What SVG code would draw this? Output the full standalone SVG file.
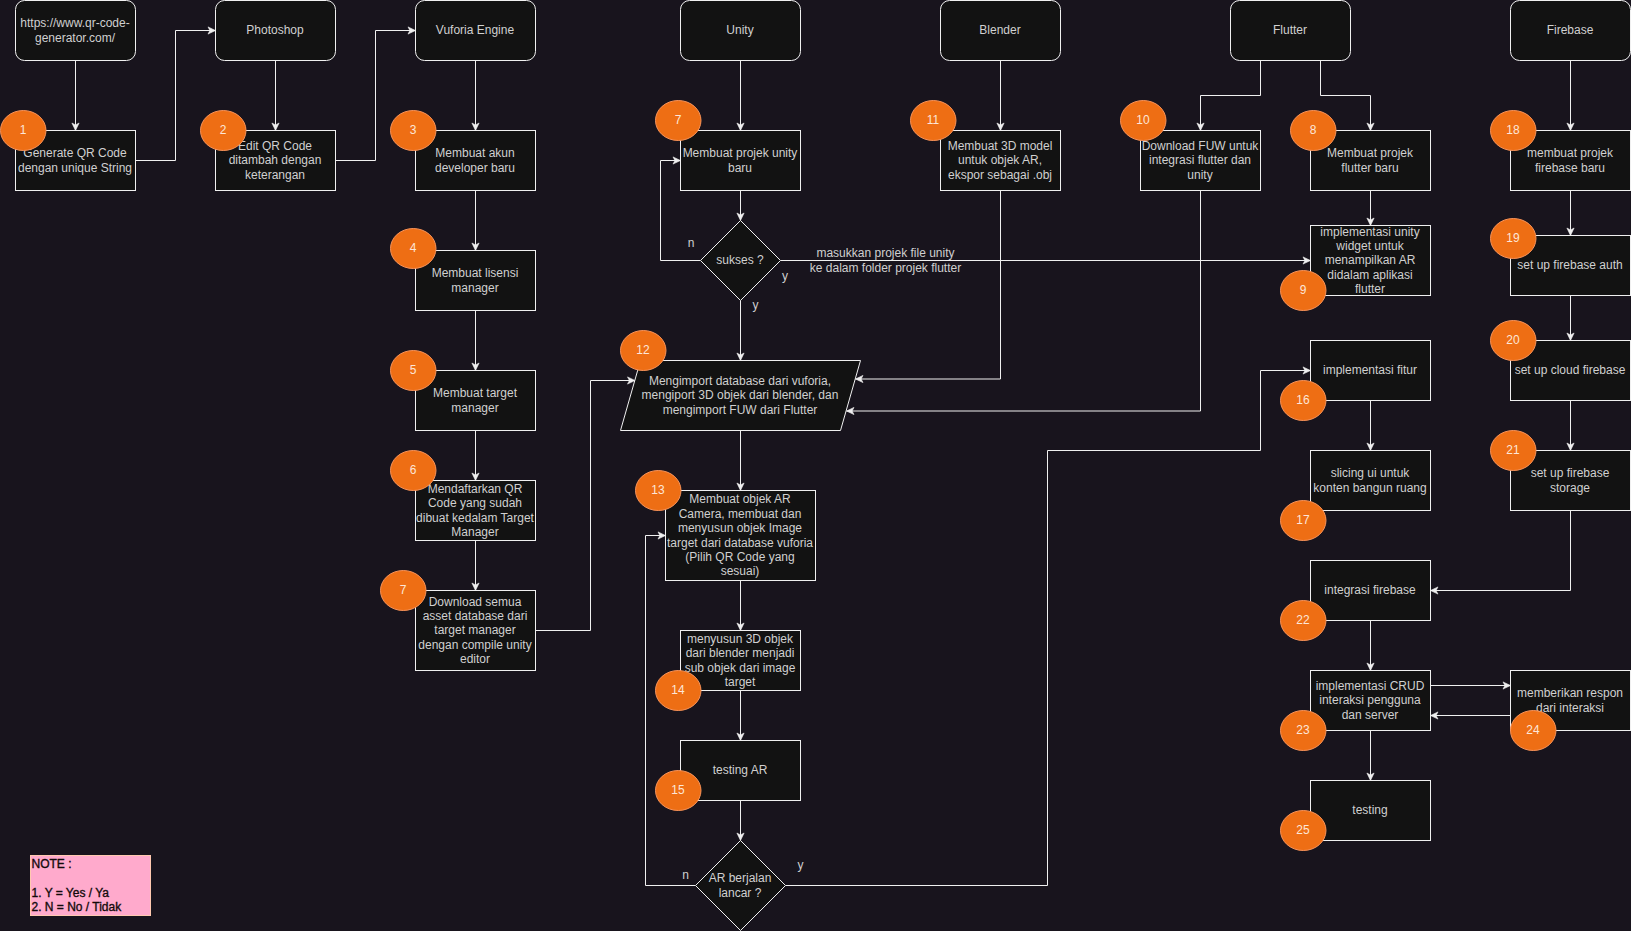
<svg xmlns="http://www.w3.org/2000/svg" width="1631" height="931" viewBox="0 0 1631 931">
<style>
text{font-family:"Liberation Sans",Arial,sans-serif;font-size:12px}
.b{fill:#121212;stroke:#f0f0f0;stroke-width:1}
.t{fill:#d0d0d0;text-anchor:middle}
.l{fill:#d0d0d0;text-anchor:middle}
.c{fill:none;stroke:#f0f0f0;stroke-width:1;marker-end:url(#a)}
.o{fill:#ee6e14;stroke:#f7935a;stroke-width:1}
.n{fill:#fde6d8;text-anchor:middle}
.m{fill:#120a0a;stroke:#120a0a;stroke-width:.35}
</style>
<defs><marker id="a" markerUnits="userSpaceOnUse" markerWidth="10" markerHeight="10" viewBox="0 0 10 10" refX="9" refY="5" orient="auto"><path d="M9 5L1.5 8.6L3.4 5L1.5 1.4Z" fill="#f0f0f0" stroke="#f0f0f0" stroke-width=".6"/></marker></defs>
<rect width="1631" height="931" fill="#18141d"/>
<g id="connectors">
<path class="c" d="M75.5 60.5V130.5"/>
<path class="c" d="M135.5 160.5H175.5V30.5H215.5"/>
<path class="c" d="M275.5 60.5V130.5"/>
<path class="c" d="M335.5 160.5H375.5V30.5H415.5"/>
<path class="c" d="M475.5 60.5V130.5"/>
<path class="c" d="M475.5 190.5V250.5"/>
<path class="c" d="M475.5 310.5V370.5"/>
<path class="c" d="M475.5 430.5V480.5"/>
<path class="c" d="M475.5 540.5V590.5"/>
<path class="c" d="M535.5 630.5H590.5V380.5H635"/>
<path class="c" d="M740.5 60.5V130.5"/>
<path class="c" d="M740.5 190.5V220.5"/>
<path class="c" d="M700.5 260.5H660.5V160.5H680.5"/>
<path class="c" d="M780.5 260.5H1310.5"/>
<path class="c" d="M740.5 300.5V360.5"/>
<path class="c" d="M1000.5 60.5V130.5"/>
<path class="c" d="M1000.5 190.5V379H855.5"/>
<path class="c" d="M1260.5 60.5V95.5H1200.5V130.5"/>
<path class="c" d="M1320.5 60.5V95.5H1370.5V130.5"/>
<path class="c" d="M1200.5 190.5V411H846.5"/>
<path class="c" d="M1370.5 190.5V225.5"/>
<path class="c" d="M740.5 430.5V490.5"/>
<path class="c" d="M740.5 580.5V630.5"/>
<path class="c" d="M740.5 690.5V740.5"/>
<path class="c" d="M740.5 800.5V840.5"/>
<path class="c" d="M695.5 885.5H645.5V535.5H665.5"/>
<path class="c" d="M785.5 885.5H1047.5V450.5H1260.5V370.5H1310.5"/>
<path class="c" d="M1370.5 400.5V450.5"/>
<path class="c" d="M1370.5 620.5V670.5"/>
<path class="c" d="M1430.5 685.5H1510.5"/>
<path class="c" d="M1510.5 715.5H1430.5"/>
<path class="c" d="M1370.5 730.5V780.5"/>
<path class="c" d="M1570.5 60.5V130.5"/>
<path class="c" d="M1570.5 190.5V235.5"/>
<path class="c" d="M1570.5 295.5V340.5"/>
<path class="c" d="M1570.5 400.5V450.5"/>
<path class="c" d="M1570.5 510.5V590.5H1430.5"/>
</g>
<g id="edge-labels">
<text class="l" x="691" y="247">n</text>
<text class="l" x="785" y="280">y</text>
<text class="l" x="755.5" y="309">y</text>
<text class="l" x="885.5" y="257">masukkan projek file unity</text>
<text class="l" x="885.5" y="272">ke dalam folder projek flutter</text>
<text class="l" x="685.5" y="879">n</text>
<text class="l" x="800.5" y="869">y</text>
</g>
<g id="n-qr"><rect class="b" x="15.5" y="0.5" width="120" height="60" rx="9"/><text class="t" x="75" y="27">https://www.qr-code-</text><text class="t" x="75" y="42">generator.com/</text></g>
<g id="n-photoshop"><rect class="b" x="215.5" y="0.5" width="120" height="60" rx="9"/><text class="t" x="275" y="34">Photoshop</text></g>
<g id="n-vuforia"><rect class="b" x="415.5" y="0.5" width="120" height="60" rx="9"/><text class="t" x="475" y="34">Vuforia Engine</text></g>
<g id="n-unity"><rect class="b" x="680.5" y="0.5" width="120" height="60" rx="9"/><text class="t" x="740" y="34">Unity</text></g>
<g id="n-blender"><rect class="b" x="940.5" y="0.5" width="120" height="60" rx="9"/><text class="t" x="1000" y="34">Blender</text></g>
<g id="n-flutter"><rect class="b" x="1230.5" y="0.5" width="120" height="60" rx="9"/><text class="t" x="1290" y="34">Flutter</text></g>
<g id="n-firebase"><rect class="b" x="1510.5" y="0.5" width="120" height="60" rx="9"/><text class="t" x="1570" y="34">Firebase</text></g>
<g id="s1"><rect class="b" x="15.5" y="130.5" width="120" height="60"/><text class="t" x="75" y="157">Generate QR Code</text><text class="t" x="75" y="172">dengan unique String</text></g>
<g id="s2"><rect class="b" x="215.5" y="130.5" width="120" height="60"/><text class="t" x="275" y="150">Edit QR Code</text><text class="t" x="275" y="164">ditambah dengan</text><text class="t" x="275" y="179">keterangan</text></g>
<g id="s3"><rect class="b" x="415.5" y="130.5" width="120" height="60"/><text class="t" x="475" y="157">Membuat akun</text><text class="t" x="475" y="172">developer baru</text></g>
<g id="s4"><rect class="b" x="415.5" y="250.5" width="120" height="60"/><text class="t" x="475" y="277">Membuat lisensi</text><text class="t" x="475" y="292">manager</text></g>
<g id="s5"><rect class="b" x="415.5" y="370.5" width="120" height="60"/><text class="t" x="475" y="397">Membuat target</text><text class="t" x="475" y="412">manager</text></g>
<g id="s6"><rect class="b" x="415.5" y="480.5" width="120" height="60"/><text class="t" x="475" y="493">Mendaftarkan QR</text><text class="t" x="475" y="507">Code yang sudah</text><text class="t" x="475" y="522">dibuat kedalam Target</text><text class="t" x="475" y="536">Manager</text></g>
<g id="s7a"><rect class="b" x="415.5" y="590.5" width="120" height="80"/><text class="t" x="475" y="606">Download semua</text><text class="t" x="475" y="620">asset database dari</text><text class="t" x="475" y="634">target manager</text><text class="t" x="475" y="649">dengan compile unity</text><text class="t" x="475" y="663">editor</text></g>
<g id="s7b"><rect class="b" x="680.5" y="130.5" width="120" height="60"/><text class="t" x="740" y="157">Membuat projek unity</text><text class="t" x="740" y="172">baru</text></g>
<g id="d-sukses"><path class="b" d="M740.5 220.5L780.5 260.5L740.5 300.5L700.5 260.5Z"/><text class="t" x="740" y="264">sukses ?</text></g>
<g id="s12"><path class="b" d="M640.5 360.5H860.5L840.5 430.5H620.5Z"/><text class="t" x="740" y="385">Mengimport database dari vuforia,</text><text class="t" x="740" y="399">mengiport 3D objek dari blender, dan</text><text class="t" x="740" y="414">mengimport FUW dari Flutter</text></g>
<g id="s13"><rect class="b" x="665.5" y="490.5" width="150" height="90"/><text class="t" x="740" y="503">Membuat objek AR</text><text class="t" x="740" y="518">Camera, membuat dan</text><text class="t" x="740" y="532">menyusun objek Image</text><text class="t" x="740" y="547">target dari database vuforia</text><text class="t" x="740" y="561">(Pilih QR Code yang</text><text class="t" x="740" y="575">sesuai)</text></g>
<g id="s14"><rect class="b" x="680.5" y="630.5" width="120" height="60"/><text class="t" x="740" y="643">menyusun 3D objek</text><text class="t" x="740" y="657">dari blender menjadi</text><text class="t" x="740" y="672">sub objek dari image</text><text class="t" x="740" y="686">target</text></g>
<g id="s15"><rect class="b" x="680.5" y="740.5" width="120" height="60"/><text class="t" x="740" y="774">testing AR</text></g>
<g id="d-ar"><path class="b" d="M740.5 840.5L785.5 885.5L740.5 930.5L695.5 885.5Z"/><text class="t" x="740" y="882">AR berjalan</text><text class="t" x="740" y="897">lancar ?</text></g>
<g id="s11"><rect class="b" x="940.5" y="130.5" width="120" height="60"/><text class="t" x="1000" y="150">Membuat 3D model</text><text class="t" x="1000" y="164">untuk objek AR,</text><text class="t" x="1000" y="179">ekspor sebagai .obj</text></g>
<g id="s10"><rect class="b" x="1140.5" y="130.5" width="120" height="60"/><text class="t" x="1200" y="150">Download FUW untuk</text><text class="t" x="1200" y="164">integrasi flutter dan</text><text class="t" x="1200" y="179">unity</text></g>
<g id="s8"><rect class="b" x="1310.5" y="130.5" width="120" height="60"/><text class="t" x="1370" y="157">Membuat projek</text><text class="t" x="1370" y="172">flutter baru</text></g>
<g id="s9"><rect class="b" x="1310.5" y="225.5" width="120" height="70"/><text class="t" x="1370" y="236">implementasi unity</text><text class="t" x="1370" y="250">widget untuk</text><text class="t" x="1370" y="264">menampilkan AR</text><text class="t" x="1370" y="279">didalam aplikasi</text><text class="t" x="1370" y="293">flutter</text></g>
<g id="s16"><rect class="b" x="1310.5" y="340.5" width="120" height="60"/><text class="t" x="1370" y="374">implementasi fitur</text></g>
<g id="s17"><rect class="b" x="1310.5" y="450.5" width="120" height="60"/><text class="t" x="1370" y="477">slicing ui untuk</text><text class="t" x="1370" y="492">konten bangun ruang</text></g>
<g id="s22"><rect class="b" x="1310.5" y="560.5" width="120" height="60"/><text class="t" x="1370" y="594">integrasi firebase</text></g>
<g id="s23"><rect class="b" x="1310.5" y="670.5" width="120" height="60"/><text class="t" x="1370" y="690">implementasi CRUD</text><text class="t" x="1370" y="704">interaksi pengguna</text><text class="t" x="1370" y="719">dan server</text></g>
<g id="s24"><rect class="b" x="1510.5" y="670.5" width="120" height="60"/><text class="t" x="1570" y="697">memberikan respon</text><text class="t" x="1570" y="712">dari interaksi</text></g>
<g id="s25"><rect class="b" x="1310.5" y="780.5" width="120" height="60"/><text class="t" x="1370" y="814">testing</text></g>
<g id="s18"><rect class="b" x="1510.5" y="130.5" width="120" height="60"/><text class="t" x="1570" y="157">membuat projek</text><text class="t" x="1570" y="172">firebase baru</text></g>
<g id="s19"><rect class="b" x="1510.5" y="235.5" width="120" height="60"/><text class="t" x="1570" y="269">set up firebase auth</text></g>
<g id="s20"><rect class="b" x="1510.5" y="340.5" width="120" height="60"/><text class="t" x="1570" y="374">set up cloud firebase</text></g>
<g id="s21"><rect class="b" x="1510.5" y="450.5" width="120" height="60"/><text class="t" x="1570" y="477">set up firebase</text><text class="t" x="1570" y="492">storage</text></g>
<g id="note"><rect x="30.5" y="855.5" width="120" height="60" fill="#ffaacc" stroke="#ffc9b0"/><text class="m" x="31.5" y="868">NOTE :</text><text class="m" x="31.5" y="897">1. Y = Yes / Ya</text><text class="m" x="31.5" y="911">2. N = No / Tidak</text></g>
<g id="badge-1"><ellipse class="o" cx="23.25" cy="130.5" rx="22.75" ry="20"/><text class="n" x="23" y="134">1</text></g>
<g id="badge-2"><ellipse class="o" cx="223.25" cy="130.5" rx="22.75" ry="20"/><text class="n" x="223" y="134">2</text></g>
<g id="badge-3"><ellipse class="o" cx="413.25" cy="130.5" rx="22.75" ry="20"/><text class="n" x="413" y="134">3</text></g>
<g id="badge-4"><ellipse class="o" cx="413.25" cy="248.5" rx="22.75" ry="20"/><text class="n" x="413" y="252">4</text></g>
<g id="badge-5"><ellipse class="o" cx="413.25" cy="370.5" rx="22.75" ry="20"/><text class="n" x="413" y="374">5</text></g>
<g id="badge-6"><ellipse class="o" cx="413.25" cy="470.5" rx="22.75" ry="20"/><text class="n" x="413" y="474">6</text></g>
<g id="badge-7a"><ellipse class="o" cx="403.25" cy="590.5" rx="22.75" ry="20"/><text class="n" x="403" y="594">7</text></g>
<g id="badge-7b"><ellipse class="o" cx="678.25" cy="120.5" rx="22.75" ry="20"/><text class="n" x="678" y="124">7</text></g>
<g id="badge-8"><ellipse class="o" cx="1313.25" cy="130.5" rx="22.75" ry="20"/><text class="n" x="1313" y="134">8</text></g>
<g id="badge-9"><ellipse class="o" cx="1303.25" cy="290.5" rx="22.75" ry="20"/><text class="n" x="1303" y="294">9</text></g>
<g id="badge-10"><ellipse class="o" cx="1143.25" cy="120.5" rx="22.75" ry="20"/><text class="n" x="1143" y="124">10</text></g>
<g id="badge-11"><ellipse class="o" cx="933.25" cy="120.5" rx="22.75" ry="20"/><text class="n" x="933" y="124">11</text></g>
<g id="badge-12"><ellipse class="o" cx="643.25" cy="350.5" rx="22.75" ry="20"/><text class="n" x="643" y="354">12</text></g>
<g id="badge-13"><ellipse class="o" cx="658.25" cy="490.5" rx="22.75" ry="20"/><text class="n" x="658" y="494">13</text></g>
<g id="badge-14"><ellipse class="o" cx="678.25" cy="690.5" rx="22.75" ry="20"/><text class="n" x="678" y="694">14</text></g>
<g id="badge-15"><ellipse class="o" cx="678.25" cy="790.5" rx="22.75" ry="20"/><text class="n" x="678" y="794">15</text></g>
<g id="badge-16"><ellipse class="o" cx="1303.25" cy="400.5" rx="22.75" ry="20"/><text class="n" x="1303" y="404">16</text></g>
<g id="badge-17"><ellipse class="o" cx="1303.25" cy="520.5" rx="22.75" ry="20"/><text class="n" x="1303" y="524">17</text></g>
<g id="badge-18"><ellipse class="o" cx="1513.25" cy="130.5" rx="22.75" ry="20"/><text class="n" x="1513" y="134">18</text></g>
<g id="badge-19"><ellipse class="o" cx="1513.25" cy="238.5" rx="22.75" ry="20"/><text class="n" x="1513" y="242">19</text></g>
<g id="badge-20"><ellipse class="o" cx="1513.25" cy="340.5" rx="22.75" ry="20"/><text class="n" x="1513" y="344">20</text></g>
<g id="badge-21"><ellipse class="o" cx="1513.25" cy="450.5" rx="22.75" ry="20"/><text class="n" x="1513" y="454">21</text></g>
<g id="badge-22"><ellipse class="o" cx="1303.25" cy="620.5" rx="22.75" ry="20"/><text class="n" x="1303" y="624">22</text></g>
<g id="badge-23"><ellipse class="o" cx="1303.25" cy="730.5" rx="22.75" ry="20"/><text class="n" x="1303" y="734">23</text></g>
<g id="badge-24"><ellipse class="o" cx="1533.25" cy="730.5" rx="22.75" ry="20"/><text class="n" x="1533" y="734">24</text></g>
<g id="badge-25"><ellipse class="o" cx="1303.25" cy="830.5" rx="22.75" ry="20"/><text class="n" x="1303" y="834">25</text></g>
</svg>
